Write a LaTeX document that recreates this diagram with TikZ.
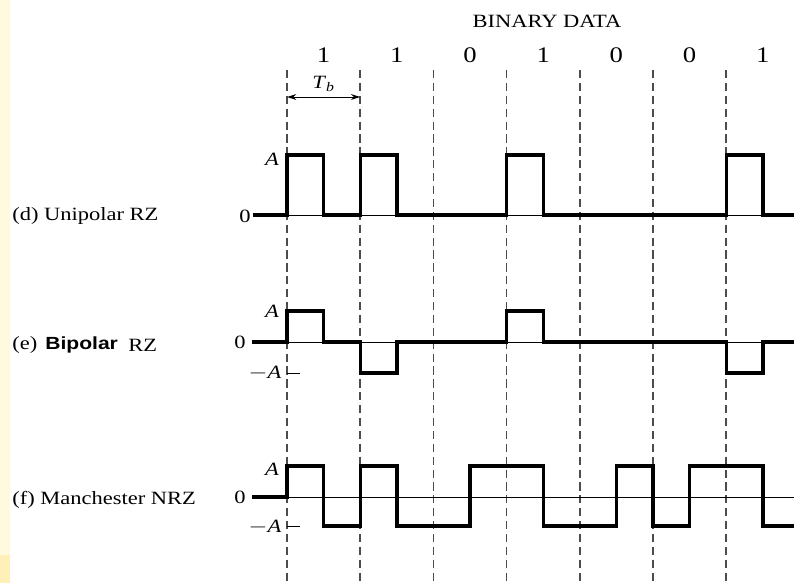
\documentclass[tikz,border=0pt]{standalone}
\usepackage{fontspec}
\setmainfont{Liberation Serif}
\setsansfont{Liberation Sans}
\usetikzlibrary{arrows.meta}
\definecolor{cream}{HTML}{FFF9E0}
\definecolor{creamdark}{HTML}{FFF0B8}

\begin{document}
\begin{tikzpicture}[x=0.03cm, y=-0.03cm,
  wave/.style={line width=2.9pt},
  axis/.style={line width=0.6pt},
  bitline/.style={gray!60!black, line width=1.4pt, dash pattern=on 7pt off 4pt},
  txt/.style={inner sep=0pt, xscale=1.2, transform shape},
  lbl/.style={txt, font=\fontsize{16}{18}\selectfont},
  bit/.style={txt, font=\fontsize{19}{21}\selectfont},
  lvl/.style={txt, font=\fontsize{16}{18}\selectfont}]
  \useasboundingbox (0,0) rectangle (794,583);
  % left margin strip
  \fill[cream] (0,0) rectangle (10,583);
  \fill[creamdark] (0,555) rectangle (10,583);

  % bit boundaries and data
  \node[lbl] (title) at (547,21) {BINARY DATA};
  \foreach \k in {0,...,6}
    \draw[bitline] ({287+73.2*\k},70) -- ({287+73.2*\k},583);
  \foreach \b [count=\i from 0] in {1,1,0,1,0,0,1}
    \node[bit] (bit\i) at ({323.6+73.2*\i},55) {\b};
  \coordinate (tbl) at (287,97);
  \coordinate (tbr) at (360.2,97);
  \draw[line width=0.8pt, {Stealth[length=8pt,width=5pt]}-{Stealth[length=8pt,width=5pt]}] (tbl) -- (tbr);
  \node[lvl] (tb) at (323.6,84) {\textit{T}\textsubscript{\textit{b}}};

  % (d) unipolar RZ
  \node[lbl, anchor=west] (labd) at (12,216) {(d) Unipolar RZ};
  \node[lvl] (zerod) at (245,216) {0};
  \node[lvl] (ampd) at (272,159) {\textit{A}};
  \draw[axis] (253,215) -- (794,215);
  \draw[wave] (253,215) -- (287,215) |- (323.6,155) |- (360.2,215)
    |- (396.8,155) |- (506.6,215) |- (543.2,155) |- (726.2,215)
    |- (762.8,155) |- (794,215);

  % (e) bipolar RZ
  \node[lbl, anchor=west] (labe) at (12,345) {(e)};
  \node[txt, anchor=west, font=\fontsize{15}{17}\selectfont\sffamily\bfseries] (bip) at (45,345) {Bipolar};
  \node[lbl, anchor=west] (rze) at (128,345) {RZ};
  \node[lvl] (zeroe) at (240,342) {0};
  \node[lvl] (ampe) at (272,311) {\textit{A}};
  \node[lvl] (nampe) at (265,373) {$-$\textit{A}};
  \draw[axis] (252,342) -- (794,342);
  \draw[axis] (287,373) -- (300,373);
  \draw[wave] (252,342) -- (287,342) |- (323.6,311) |- (360.2,342)
    |- (396.8,373) |- (506.6,342) |- (543.2,311) |- (726.2,342)
    |- (762.8,373) |- (794,342);

  % (f) Manchester NRZ
  \node[lbl, anchor=west] (labf) at (12,500) {(f) Manchester NRZ};
  \node[lvl] (zerof) at (240,497) {0};
  \node[lvl] (ampf) at (272,469) {\textit{A}};
  \node[lvl] (nampf) at (265,527) {$-$\textit{A}};
  \draw[axis] (252,497) -- (794,497);
  \draw[axis] (287,526) -- (300,526);
  \draw[wave] (252,497) -- (287,497) |- (323.6,466) |- (360.2,526)
    |- (396.8,466) |- (470,526) |- (543.2,466) |- (616.4,526)
    |- (653,466) |- (689.6,526) |- (762.8,466) |- (794,526);
\end{tikzpicture}
\end{document}
